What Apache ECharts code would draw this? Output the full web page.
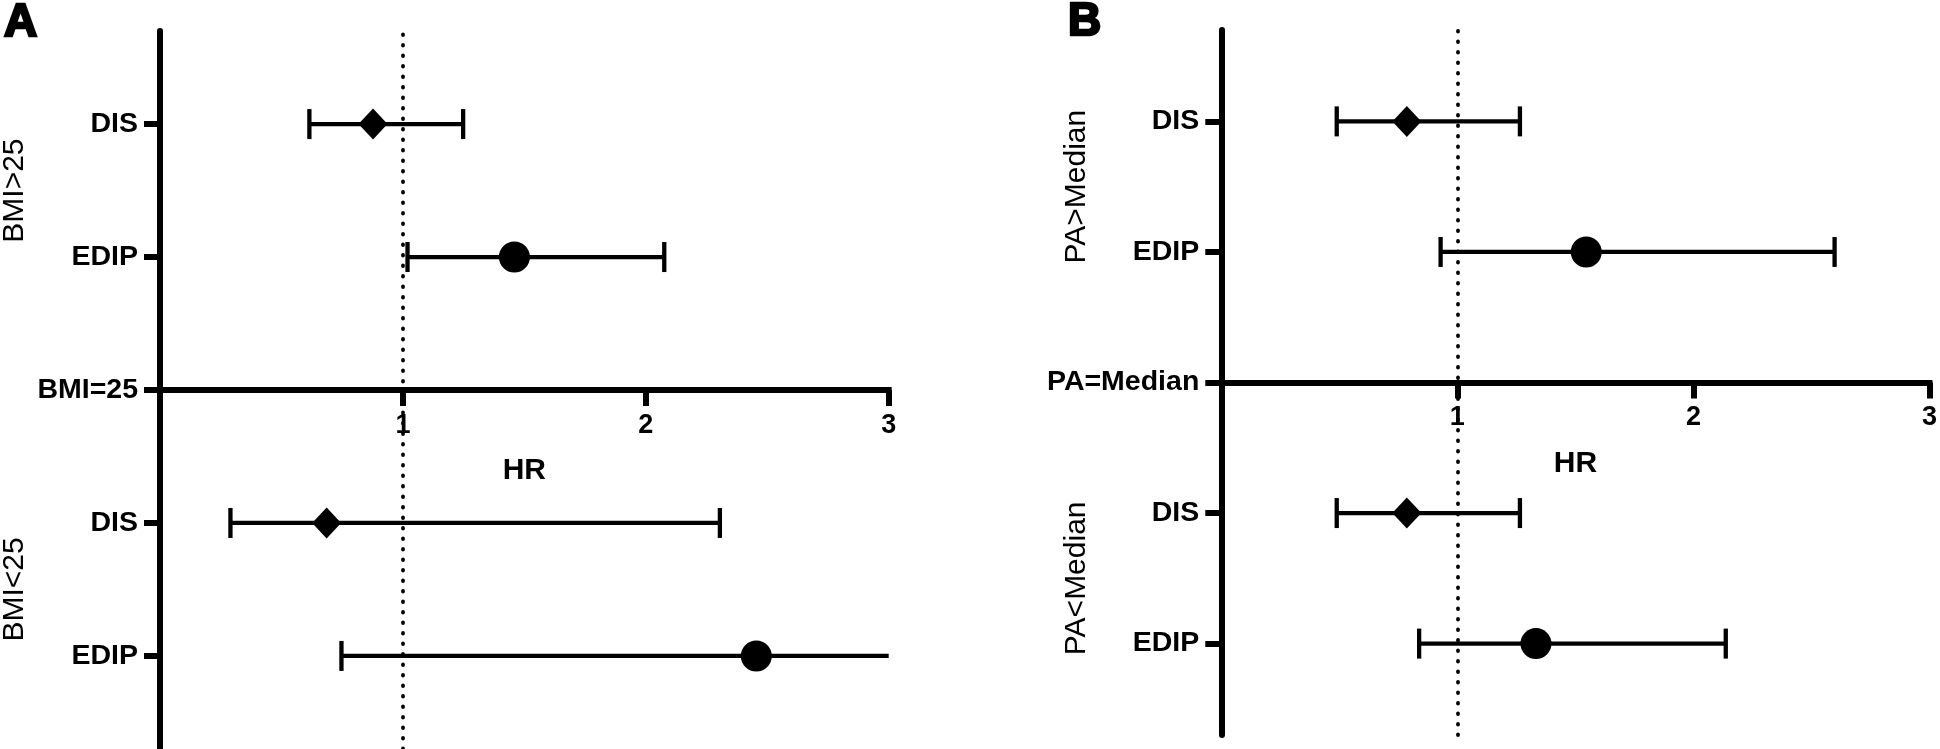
<!DOCTYPE html>
<html>
<head>
<meta charset="utf-8">
<script src="https://cdn.jsdelivr.net/npm/echarts@6/dist/echarts.min.js"></script>
<style>
html,body{margin:0;padding:0;background:#fff;}
#chart{width:1940px;height:749px;}
</style>
</head>
<body>
<div id="chart"></div>
<script>
// ---------------- data ----------------
const panelLetters = ['A', 'B'];
const rowPositions = [2, 1, 0, -1, -2];
const rowLabelsA = ['DIS', 'EDIP', 'BMI=25', 'DIS', 'EDIP'];
const rowLabelsB = ['DIS', 'EDIP', 'PA=Median', 'DIS', 'EDIP'];
const groupPositions = [1.5, -1.5];
const groupLabelsA = ['BMI>25', 'BMI<25'];
const groupLabelsB = ['PA>Median', 'PA<Median'];
const xTicks = [1, 2, 3];
const xAxisName = 'HR';
const refLineHR = 1;

// marker rows: DIS / EDIP of upper group, DIS / EDIP of lower group
const markerNames = ['DIS', 'EDIP', 'DIS', 'EDIP'];
const markerPositions = [2, 1, -1, -2];
const hrA   = [0.877, 1.459, 0.686, 2.455];
const lowA  = [0.615, 1.019, 0.290, 0.747];
const highA = [1.248, 2.076, 2.305, 3.0];   // last interval runs to the axis end
const hrB   = [0.786, 1.546, 0.786, 1.333];
const lowB  = [0.489, 0.929, 0.489, 0.838];
const highB = [1.265, 2.598, 1.265, 2.137];

// ---------------- layout / style ----------------
const FONT = '"Liberation Sans", Arial, Helvetica, sans-serif';
const X_MIN = 0, X_MAX = 3;
const Y_MIN = -2.7, Y_MAX = 2.7;
const grids = [
  { left: 158.3, top: 31, width: 730.4, height: 718 },
  { left: 1221.3, top: 30, width: 712.7, height: 705 }
];
const panels = [
  { rows: rowLabelsA, groups: groupLabelsA, hr: hrA, low: lowA, high: highA },
  { rows: rowLabelsB, groups: groupLabelsB, hr: hrB, low: lowB, high: highB }
];
const letterStyle = { fontFamily: FONT, fontSize: 46, fontWeight: 'bold', color: '#000',
                      textBorderColor: '#000', textBorderWidth: 2.5 };

const option = {
  animation: false,
  backgroundColor: '#fff',
  title: [
    { text: panelLetters[0], left: 4, top: 0, padding: 0, textStyle: letterStyle },
    { text: panelLetters[1], left: 1068, top: -1, padding: 0, textStyle: letterStyle }
  ],
  grid: grids.map(g => Object.assign({ containLabel: false }, g)),
  xAxis: [],
  yAxis: [],
  series: []
};

panels.forEach((p, i) => {
  const g = grids[i];
  const zeroOffset = -g.height * (0 - Y_MIN) / (Y_MAX - Y_MIN);
  option.xAxis.push({
    gridIndex: i, type: 'value', min: X_MIN, max: X_MAX,
    position: 'bottom', offset: zeroOffset,
    axisLine: { onZero: false, lineStyle: { color: '#000', width: 6, cap: 'square' } },
    axisTick: { customValues: xTicks, length: 16, lineStyle: { color: '#000', width: 6 } },
    axisLabel: { customValues: xTicks, margin: 22, color: '#000', fontFamily: FONT,
                 fontSize: 27, fontWeight: 'bold' },
    splitLine: { show: false },
    name: xAxisName, nameLocation: 'middle', nameGap: 66,
    nameTextStyle: { color: '#000', fontFamily: FONT, fontSize: 30, fontWeight: 'bold' }
  });
  // main y axis with row labels
  option.yAxis.push({
    gridIndex: i, type: 'value', min: Y_MIN, max: Y_MAX, position: 'left',
    axisLine: { onZero: false, lineStyle: { color: '#000', width: 6 } },
    axisTick: { customValues: rowPositions, length: 16, lineStyle: { color: '#000', width: 6 } },
    axisLabel: { customValues: rowPositions, margin: 22, color: '#000', fontFamily: FONT,
                 fontSize: 28.5, fontWeight: 'bold',
                 formatter: v => p.rows[rowPositions.indexOf(v)] || '' },
    splitLine: { show: false }
  });
  // secondary y axis carrying the group labels
  option.yAxis.push({
    gridIndex: i, type: 'value', min: Y_MIN, max: Y_MAX, position: 'left',
    axisLine: { show: false }, axisTick: { show: false }, splitLine: { show: false },
    axisLabel: { customValues: groupPositions, rotate: 90, margin: 130, color: '#000',
                 fontFamily: FONT, fontSize: 30, fontWeight: 'normal',
                 formatter: v => p.groups[groupPositions.indexOf(v)] || '' }
  });

  const yIdx = i * 2;
  // error bars
  option.series.push({
    type: 'custom', xAxisIndex: i, yAxisIndex: yIdx, z: 3,
    encode: { x: [0, 1], y: 2 },
    data: markerPositions.map((pos, k) => [p.low[k], p.high[k], pos]),
    renderItem: (params, api) => {
      const lo = api.value(0), hi = api.value(1), pos = api.value(2);
      const a = api.coord([lo, pos]);
      const b = api.coord([Math.min(hi, X_MAX), pos]);
      const st = { stroke: '#000', lineWidth: 4.3, fill: null };
      const capH = 15;
      const children = [
        { type: 'line', shape: { x1: a[0], y1: a[1], x2: b[0], y2: b[1] }, style: st },
        { type: 'line', shape: { x1: a[0], y1: a[1] - capH, x2: a[0], y2: a[1] + capH }, style: st }
      ];
      if (hi < X_MAX) {
        children.push({ type: 'line', shape: { x1: b[0], y1: b[1] - capH, x2: b[0], y2: b[1] + capH }, style: st });
      }
      return { type: 'group', children };
    },
    markLine: {
      silent: true, symbol: 'none', label: { show: false },
      lineStyle: { color: '#000', width: 3.8, type: [0.5, 10], cap: 'round' },
      emphasis: { disabled: true },
      data: [{ xAxis: refLineHR }]
    }
  });
  // point estimates
  option.series.push({
    type: 'scatter', xAxisIndex: i, yAxisIndex: yIdx, z: 5,
    itemStyle: { color: '#000', opacity: 1 },
    data: markerPositions.map((pos, k) => ({
      value: [p.hr[k], pos],
      symbol: markerNames[k] === 'DIS' ? 'diamond' : 'circle',
      symbolSize: markerNames[k] === 'DIS' ? [29, 31] : 31
    }))
  });
});

const chart = echarts.init(document.getElementById('chart'), null, { renderer: 'canvas' });
chart.setOption(option);
</script>
</body>
</html>
